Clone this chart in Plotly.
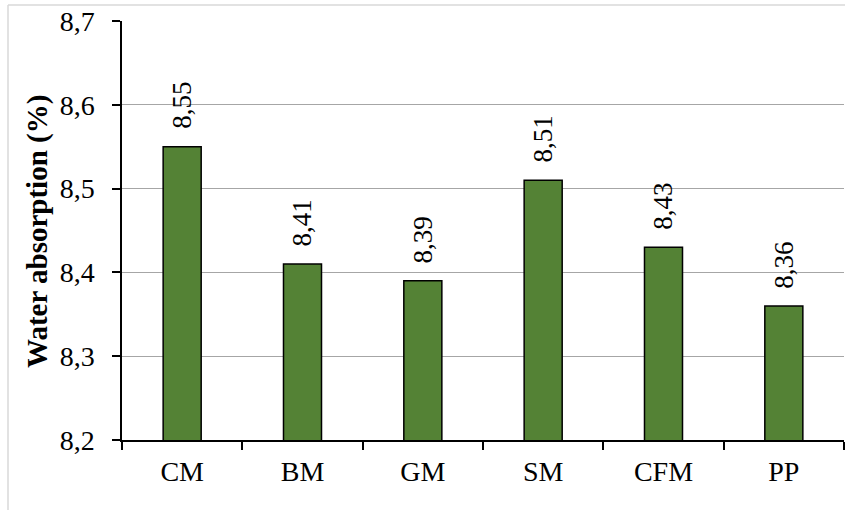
import plotly.graph_objects as go

categories = ["CM", "BM", "GM", "SM", "CFM", "PP"]
values = [8.55, 8.41, 8.39, 8.51, 8.43, 8.36]
labels = ["8,55", "8,41", "8,39", "8,51", "8,43", "8,36"]
tick_vals = [8.2, 8.3, 8.4, 8.5, 8.6, 8.7]
tick_text = ["8,2", "8,3", "8,4", "8,5", "8,6", "8,7"]
y_title = "Water absorption (%)"

FONT = "Liberation Serif, Times New Roman, serif"
W, H = 845, 510
L, R, T, B = 122, 1, 21, 70
pw, ph = W - L - R, H - T - B

fig = go.Figure()
fig.add_trace(go.Bar(
    x=categories, y=values,
    base=0,
    width=0.316,
    marker=dict(color="#548235", line=dict(color="#000000", width=1.5)),
    hoverinfo="x+y",
))

for c, v, t in zip(categories, values, labels):
    fig.add_annotation(x=c, y=v, text=t, showarrow=False, textangle=-90,
                       xanchor="center", yanchor="middle", yshift=41,
                       font=dict(family=FONT, size=27, color="#000000"))

# y-axis title as annotation for exact placement
fig.add_annotation(xref="paper", yref="paper", x=(37 - L) / pw, y=1 - (232 - T) / ph,
                   text="<b>" + y_title + "</b>", showarrow=False, textangle=-90,
                   xanchor="center", yanchor="middle",
                   font=dict(family=FONT, size=29, color="#000000"))

# outer chart frame (light gray)
fx = (8 - L) / pw
fy = 1 + (T - 5) / ph
fig.add_shape(type="line", xref="paper", yref="paper", x0=fx, x1=fx, y0=-(B + 5) / ph, y1=fy,
              line=dict(color="#d9d9d9", width=1.5))
fig.add_shape(type="line", xref="paper", yref="paper", x0=fx, x1=(W - L) / pw + 0.01, y0=fy, y1=fy,
              line=dict(color="#d9d9d9", width=1.5))

fig.update_layout(
    width=W, height=H,
    margin=dict(l=L, r=R, t=T, b=B, autoexpand=False),
    paper_bgcolor="white", plot_bgcolor="white",
    showlegend=False,
    font=dict(family=FONT, size=28, color="#000000"),
)
fig.update_xaxes(
    type="category", automargin=False,
    showline=True, linecolor="#000000", linewidth=1.5,
    ticks="outside", ticklen=8, tickcolor="#000000", tickwidth=1.5,
    tickson="boundaries", ticklabelstandoff=6,
    showgrid=False,
    tickfont=dict(family=FONT, size=28),
)
fig.update_yaxes(
    range=[8.2, 8.7], automargin=False,
    tickvals=tick_vals, ticktext=tick_text,
    showline=True, linecolor="#000000", linewidth=1.5,
    ticks="outside", ticklen=8, tickcolor="#000000", tickwidth=1.5,
    ticklabelstandoff=12,
    showgrid=True, gridcolor="#a6a6a6", gridwidth=1,
    zeroline=False,
    tickfont=dict(family=FONT, size=28),
)

fig.write_html("out.html", config={"displayModeBar": False},
               post_script="document.body.style.margin='0px';document.body.style.overflow='hidden';")
